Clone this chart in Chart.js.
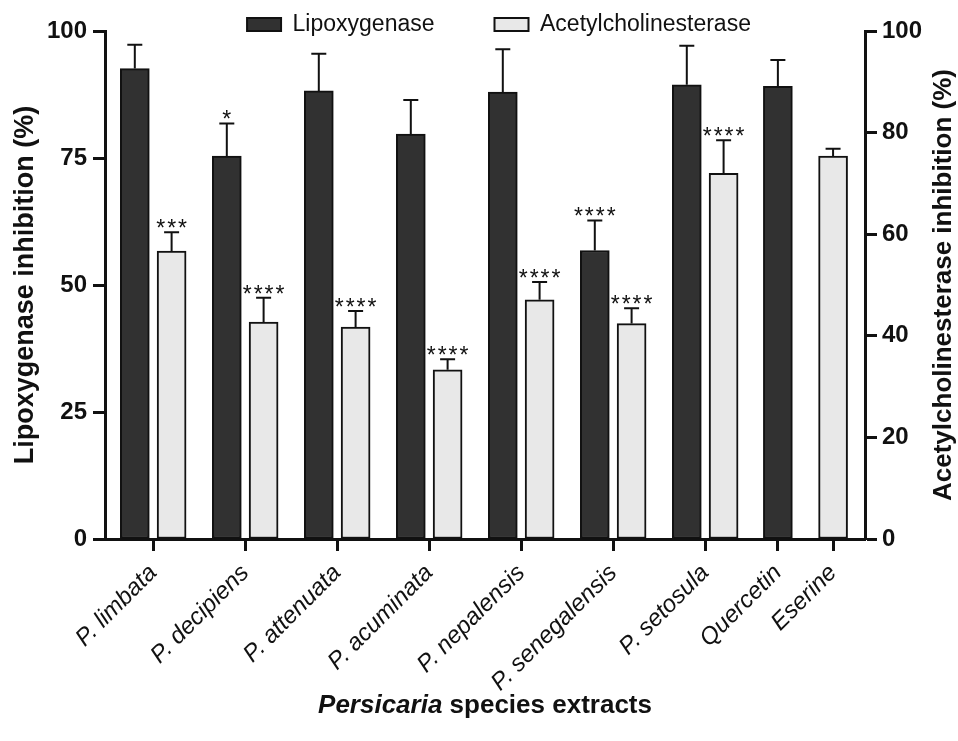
<!DOCTYPE html>
<html lang="en">
<head>
<meta charset="UTF-8">
<title>Lipoxygenase and acetylcholinesterase inhibition</title>
<script src="https://cdn.jsdelivr.net/npm/chart.js"></script>
<style>
  body { margin: 0; background: #fff; }
  #wrap { width: 958px; height: 741px; position: relative; }
</style>
</head>
<body>
<div id="wrap"><canvas id="chart"></canvas></div>
<script>
// x axis categories
const species = ['P. limbata', 'P. decipiens', 'P. attenuata', 'P. acuminata', 'P. nepalensis',
                 'P. senegalensis', 'P. setosula', 'Quercetin', 'Eserine'];
// slot of each category on the x axis (the two standards are packed closer together)
const slotX = [0, 1, 2, 3, 4, 5, 6, 6.79, 7.39];

// lipoxygenase inhibition (%): mean, SD, significance
const loxMean = [92.6, 75.4, 88.2, 79.7, 88.0, 56.8, 89.4, 89.1, null];
const loxSD   = [4.7, 6.4, 7.3, 6.7, 8.4, 5.9, 7.7, 5.2, null];
const loxSig  = ['', '*', '', '', '', '****', '', '', ''];

// acetylcholinesterase inhibition (%): mean, SD, significance
const acheMean = [56.7, 42.7, 41.7, 33.3, 47.1, 42.4, 72.0, null, 75.4];
const acheSD   = [3.7, 4.8, 3.2, 2.1, 3.5, 3.0, 6.5, null, 1.4];
const acheSig  = ['***', '****', '****', '****', '****', '****', '****', '', ''];

const FONT = "'Liberation Sans', Arial, Helvetica, sans-serif";
const INK = '#111';

// bars sit either side of the slot when both are present, centred otherwise
function toPoints(mean, other, side) {
    const pts = [];
    mean.forEach((v, i) => {
        if (v == null) return;
        const shift = other[i] == null ? 0 : side * 0.2;
        pts.push({ x: slotX[i] + shift, y: v, i: i });
    });
    return pts;
}

// error bars (upper half only) and significance stars
const errorBars = {
    id: 'errorBars',
    afterDatasetsDraw(chart) {
        const ctx = chart.ctx;
        chart.data.datasets.forEach((ds, d) => {
            const meta = chart.getDatasetMeta(d);
            const scale = chart.scales[ds.yAxisID];
            meta.data.forEach((bar, j) => {
                const i = ds.data[j].i;
                const top = scale.getPixelForValue(ds.means[i] + ds.sds[i]);
                ctx.save();
                ctx.strokeStyle = INK;
                ctx.lineWidth = 2;
                ctx.beginPath();
                ctx.moveTo(bar.x, bar.y);
                ctx.lineTo(bar.x, top);
                ctx.moveTo(bar.x - 7.5, top);
                ctx.lineTo(bar.x + 7.5, top);
                ctx.stroke();
                const s = ds.stars[i];
                if (s) {
                    ctx.font = '23px ' + FONT;
                    ctx.letterSpacing = '2px';
                    ctx.fillStyle = INK;
                    ctx.textAlign = 'center';
                    ctx.textBaseline = 'alphabetic';
                    const m = ctx.measureText(s);
                    ctx.fillText(s, bar.x + 1, top - 4 - m.actualBoundingBoxDescent);
                }
                ctx.restore();
            });
        });
    }
};

// right axis title reads bottom-to-top, x title mixes italic and upright
const extraTitles = {
    id: 'extraTitles',
    afterDraw(chart) {
        const { ctx, chartArea } = chart;
        const r = chart.scales.y1;
        ctx.save();
        ctx.fillStyle = INK;
        ctx.font = 'bold 26px ' + FONT;
        ctx.textAlign = 'center';
        ctx.textBaseline = 'middle';
        ctx.translate(r.right - 14, (chartArea.top + chartArea.bottom) / 2);
        ctx.rotate(-Math.PI / 2);
        ctx.fillText('Acetylcholinesterase inhibition (%)', 0, 0);
        ctx.restore();

        ctx.save();
        ctx.fillStyle = INK;
        ctx.textBaseline = 'alphabetic';
        ctx.textAlign = 'left';
        const a = 'Persicaria', b = ' species extracts';
        ctx.font = 'italic bold 26px ' + FONT;
        const wa = ctx.measureText(a).width;
        ctx.font = 'bold 26px ' + FONT;
        const wb = ctx.measureText(b).width;
        const x0 = (chartArea.left + chartArea.right) / 2 - (wa + wb) / 2;
        const y = chart.height - 28;
        ctx.font = 'italic bold 26px ' + FONT;
        ctx.fillText(a, x0, y);
        ctx.font = 'bold 26px ' + FONT;
        ctx.fillText(b, x0 + wa, y);
        ctx.restore();
    }
};

// the legend only reserves a thin strip; place its row by hand
const legendPlace = {
    id: 'legendPlace',
    afterLayout(chart) {
        const lg = chart.legend;
        const pad = lg.options.labels.padding;
        lg.top = 13 - pad;
        lg.bottom = 60;
        lg.left += 20;
        lg.right += 20;
    }
};

Chart.defaults.font.family = FONT;
Chart.defaults.color = INK;

const ctx = document.getElementById('chart').getContext('2d');
new Chart(ctx, {
    type: 'bar',
    data: {
        datasets: [
            {
                label: 'Lipoxygenase',
                data: toPoints(loxMean, acheMean, -1),
                means: loxMean, sds: loxSD, stars: loxSig,
                yAxisID: 'y',
                backgroundColor: '#313131',
                borderColor: INK,
                borderWidth: 2,
                borderSkipped: false,
                barThickness: 29,
                grouped: false
            },
            {
                label: 'Acetylcholinesterase',
                data: toPoints(acheMean, loxMean, 1),
                means: acheMean, sds: acheSD, stars: acheSig,
                yAxisID: 'y1',
                backgroundColor: '#e8e8e8',
                borderColor: INK,
                borderWidth: 2,
                borderSkipped: false,
                barThickness: 29,
                grouped: false
            }
        ]
    },
    options: {
        responsive: true,
        maintainAspectRatio: false,
        animation: false,
        events: [],
        layout: { padding: 0 },
        scales: {
            x: {
                type: 'linear',
                min: -0.524,
                max: 7.737,
                offset: false,
                afterBuildTicks: (s) => { s.ticks = slotX.map(v => ({ value: v })); },
                afterFit: (s) => { s.height = 202; },
                grid: { offset: false, drawOnChartArea: false, tickLength: 12, tickWidth: 3, color: INK },
                border: { width: 3, color: INK },
                ticks: {
                    autoSkip: false,
                    minRotation: 45,
                    maxRotation: 45,
                    padding: 8,
                    color: INK,
                    font: { size: 24, style: 'italic' },
                    callback: (v, idx) => species[idx]
                }
            },
            y: {
                position: 'left',
                min: 0,
                max: 100,
                afterFit: (s) => { s.width = 105; },
                grid: { drawOnChartArea: false, tickLength: 12, tickWidth: 3, color: INK },
                border: { width: 3, color: INK },
                ticks: { stepSize: 25, padding: 6, color: INK, font: { size: 24, weight: 'bold' } },
                title: {
                    display: true,
                    text: 'Lipoxygenase inhibition (%)',
                    color: INK,
                    font: { size: 27, weight: 'bold' },
                    padding: { top: 9, bottom: 0 }
                }
            },
            y1: {
                position: 'right',
                min: 0,
                max: 100,
                afterFit: (s) => { s.width = 93; },
                grid: { drawOnChartArea: false, tickLength: 12, tickWidth: 3, color: INK },
                border: { width: 3, color: INK },
                ticks: { stepSize: 20, padding: 5, color: INK, font: { size: 24, weight: 'bold' } }
            }
        },
        plugins: {
            legend: {
                position: 'top',
                maxHeight: 31,
                labels: {
                    boxWidth: 34,
                    boxHeight: 13,
                    padding: 60,
                    color: INK,
                    font: { size: 23 }
                }
            },
            tooltip: { enabled: false }
        }
    },
    plugins: [errorBars, extraTitles, legendPlace]
});
</script>
</body>
</html>
